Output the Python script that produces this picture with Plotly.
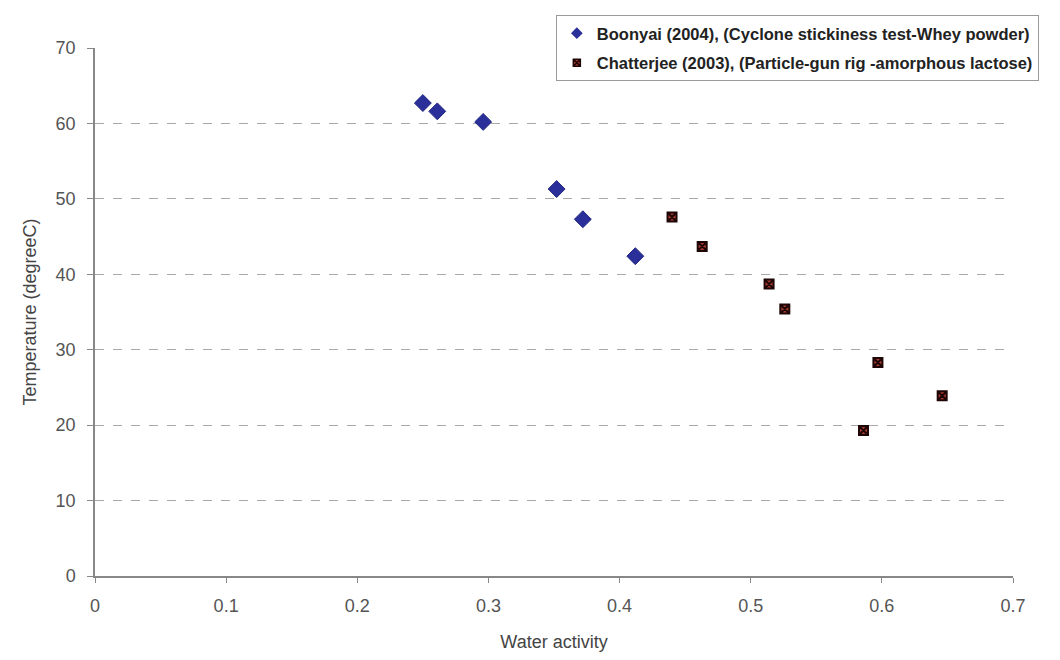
import plotly.graph_objects as go

boonyai_aw = [0.250, 0.261, 0.296, 0.352, 0.372, 0.412]
boonyai_t = [62.7, 61.6, 60.2, 51.3, 47.3, 42.4]
chat_aw = [0.440, 0.463, 0.514, 0.526, 0.597, 0.646, 0.586]
chat_t = [47.6, 43.7, 38.7, 35.4, 28.3, 23.9, 19.3]

x_ticks = [0, 0.1, 0.2, 0.3, 0.4, 0.5, 0.6, 0.7]
x_labels = ["0", "0.1", "0.2", "0.3", "0.4", "0.5", "0.6", "0.7"]
y_ticks = [0, 10, 20, 30, 40, 50, 60, 70]

name_b = "Boonyai (2004), (Cyclone stickiness test-Whey powder)"
name_c = "Chatterjee (2003), (Particle-gun rig -amorphous lactose)"

font = "Liberation Sans, Arial, sans-serif"
blue = "#2b2f9a"
dark = "#1e0606"
edge = "#a83a2e"

fig = go.Figure()
fig.add_trace(go.Scatter(
    x=boonyai_aw, y=boonyai_t, mode="markers", name=name_b, showlegend=False,
    marker=dict(symbol="diamond", size=13, color=blue,
                line=dict(color="#23277f", width=1)),
))
fig.add_trace(go.Scatter(
    x=chat_aw, y=chat_t, mode="markers", name=name_c, showlegend=False,
    marker=dict(symbol="square-x", size=9, color=edge,
                line=dict(color=dark, width=2)),
))
# legend-only entries with smaller markers
fig.add_trace(go.Scatter(
    x=[None], y=[None], mode="markers", name=name_b, legendgroup="a",
    marker=dict(symbol="diamond", size=9, color=blue),
))
fig.add_trace(go.Scatter(
    x=[None], y=[None], mode="markers", name=name_c, legendgroup="b",
    marker=dict(symbol="square-x", size=7, color=edge,
                line=dict(color=dark, width=1.5)),
))

fig.update_layout(
    width=1060, height=660,
    margin=dict(l=95, r=47, t=48, b=84),
    paper_bgcolor="white", plot_bgcolor="white",
    font=dict(family=font, color="#444444", size=18),
    showlegend=True,
    legend=dict(
        x=0.502, y=1.0625, xanchor="left", yanchor="top",
        bgcolor="white", bordercolor="#9a9a9a", borderwidth=1,
        font=dict(family=font, size=16.5, color="#222222", weight="bold"),
        tracegroupgap=5,
        itemwidth=30,
    ),
    xaxis=dict(
        range=[0, 0.7], tickvals=x_ticks, ticktext=x_labels,
        showgrid=False, zeroline=False,
        showline=True, linecolor="#888888", linewidth=1.5,
        ticks="outside", ticklen=5, tickcolor="#888888",
        ticklabelstandoff=8,
        title=dict(text="Water activity", standoff=20,
                   font=dict(size=18, color="#444444")),
        tickfont=dict(size=18, color="#555555"),
    ),
    yaxis=dict(
        range=[0, 70], tickvals=y_ticks,
        showgrid=True, gridcolor="#a8a8a8", griddash="dash", gridwidth=1,
        zeroline=False,
        showline=True, linecolor="#888888", linewidth=1.5,
        ticks="outside", ticklen=6, tickcolor="#888888",
        ticklabelstandoff=8,
        title=dict(text="Temperature (degreeC)", standoff=14,
                   font=dict(size=18, color="#444444")),
        tickfont=dict(size=18, color="#555555"),
    ),
)

fig.write_html("out.html")
